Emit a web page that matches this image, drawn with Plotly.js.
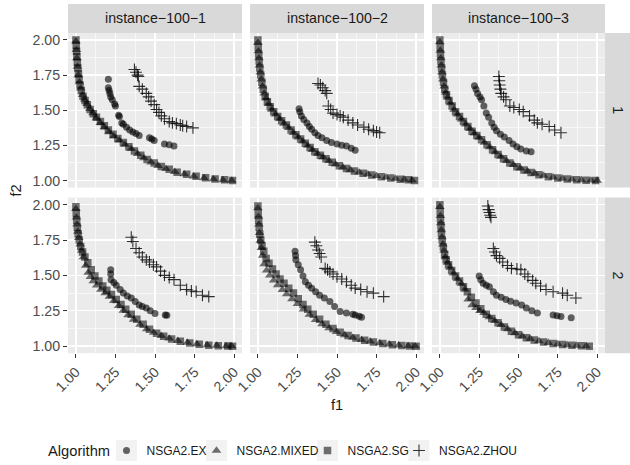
<!DOCTYPE html>
<html><head><meta charset="utf-8">
<script src="https://cdn.plot.ly/plotly-3.0.1.min.js"></script>
<style>html,body{margin:0;padding:0;background:#fff}#chart{width:630px;height:465px}</style>
</head><body><div id="chart"></div>
<script>
// ---------- categories / labels ----------
const instances = ["instance\u2212100\u22121", "instance\u2212100\u22122", "instance\u2212100\u22123"];
const rowLabels = ["1", "2"];
const algorithms = ["NSGA2.EX", "NSGA2.MIXED", "NSGA2.SG", "NSGA2.ZHOU"];
const legendTitle = "Algorithm";
const f1Ticks = [1, 1.25, 1.5, 1.75, 2];
const f1TickText = ["1.00", "1.25", "1.50", "1.75", "2.00"];
const f2Ticks = [1, 1.25, 1.5, 1.75, 2];
const f2TickText = ["1.00", "1.25", "1.50", "1.75", "2.00"];
const minorTicks = [1.125, 1.375, 1.625, 1.875];

// ---------- row 1, instance-100-1 ----------
const EX_11_f1 = [1.205,1.205,1.210,1.215,1.220,1.230,1.245,1.250,1.270,1.275,1.290,1.300,1.320,1.340,1.360,1.380,1.400,1.465,1.480,1.495,1.560,1.590,1.620];
const EX_11_f2 = [1.720,1.660,1.640,1.620,1.595,1.575,1.545,1.530,1.465,1.455,1.410,1.400,1.380,1.360,1.345,1.335,1.320,1.305,1.295,1.285,1.260,1.255,1.245];
const ZH_11_f1 = [1.370,1.380,1.390,1.395,1.400,1.420,1.445,1.460,1.475,1.495,1.510,1.525,1.540,1.560,1.590,1.610,1.635,1.660,1.675,1.700,1.740];
const ZH_11_f2 = [1.790,1.770,1.750,1.740,1.670,1.650,1.620,1.595,1.565,1.540,1.505,1.485,1.460,1.440,1.420,1.410,1.405,1.395,1.390,1.385,1.375];
const SG_11_f1 = [1.000,1.002,1.004,1.006,1.009,1.012,1.016,1.020,1.026,1.034,1.045,1.058,1.072,1.090,1.110,1.130,1.155,1.180,1.205,1.235,1.265,1.300,1.335,1.370,1.410,1.450,1.495,1.540,1.590,1.640,1.700,1.760,1.820,1.880,1.940,1.990];
const SG_11_f2 = [2.000,1.960,1.920,1.880,1.840,1.800,1.760,1.720,1.680,1.640,1.600,1.570,1.540,1.505,1.475,1.450,1.420,1.390,1.360,1.330,1.300,1.270,1.240,1.210,1.180,1.150,1.125,1.100,1.080,1.060,1.045,1.030,1.020,1.012,1.005,1.000];
const MX_11_f1 = [1.000,1.003,1.006,1.010,1.015,1.022,1.030,1.042,1.056,1.070,1.088,1.108,1.130,1.155,1.180,1.210,1.240,1.275,1.310,1.350,1.390,1.430,1.475,1.520,1.570,1.625,1.685,1.745,1.810,1.870,1.930,1.985];
const MX_11_f2 = [1.990,1.930,1.870,1.810,1.750,1.700,1.655,1.610,1.575,1.545,1.510,1.480,1.445,1.410,1.380,1.345,1.315,1.285,1.255,1.225,1.190,1.160,1.130,1.105,1.083,1.062,1.045,1.030,1.018,1.010,1.004,1.000];

// ---------- row 1, instance-100-2 ----------
const EX_12_f1 = [1.260,1.265,1.275,1.290,1.310,1.325,1.340,1.360,1.380,1.405,1.435,1.465,1.500,1.530,1.560,1.590,1.615];
const EX_12_f2 = [1.510,1.490,1.460,1.435,1.410,1.385,1.365,1.340,1.320,1.305,1.285,1.270,1.260,1.252,1.245,1.230,1.215];
const ZH_12_f1 = [1.380,1.395,1.410,1.425,1.435,1.445,1.460,1.475,1.500,1.520,1.540,1.570,1.600,1.630,1.670,1.700,1.730,1.750,1.770];
const ZH_12_f2 = [1.690,1.680,1.660,1.640,1.620,1.530,1.505,1.480,1.470,1.460,1.450,1.430,1.410,1.395,1.380,1.365,1.355,1.345,1.340];
const SG_12_f1 = [1.000,1.002,1.005,1.008,1.012,1.018,1.025,1.034,1.046,1.060,1.078,1.100,1.125,1.150,1.180,1.210,1.240,1.270,1.300,1.330,1.360,1.395,1.430,1.470,1.515,1.560,1.610,1.665,1.720,1.780,1.840,1.900,1.950,1.990];
const SG_12_f2 = [2.000,1.950,1.900,1.850,1.800,1.750,1.700,1.650,1.600,1.560,1.525,1.490,1.455,1.425,1.395,1.360,1.325,1.295,1.265,1.235,1.205,1.180,1.155,1.130,1.105,1.085,1.068,1.052,1.040,1.028,1.018,1.010,1.005,1.000];
const MX_12_f1 = [1.000,1.003,1.006,1.010,1.015,1.021,1.029,1.040,1.052,1.068,1.088,1.112,1.138,1.165,1.195,1.225,1.255,1.285,1.315,1.345,1.378,1.412,1.450,1.492,1.538,1.585,1.640,1.695,1.750,1.810,1.870,1.925,1.975];
const MX_12_f2 = [1.980,1.920,1.870,1.820,1.770,1.720,1.670,1.620,1.585,1.545,1.505,1.470,1.438,1.405,1.375,1.340,1.308,1.278,1.248,1.218,1.190,1.165,1.140,1.115,1.093,1.075,1.058,1.045,1.033,1.022,1.013,1.007,1.002];

// ---------- row 1, instance-100-3 ----------
const EX_13_f1 = [1.220,1.230,1.240,1.255,1.265,1.280,1.295,1.310,1.330,1.345,1.360,1.385,1.410,1.440,1.465,1.490,1.515,1.550,1.580];
const EX_13_f2 = [1.675,1.650,1.620,1.595,1.575,1.530,1.480,1.450,1.410,1.380,1.355,1.330,1.310,1.285,1.260,1.240,1.225,1.210,1.205];
const ZH_13_f1 = [1.375,1.378,1.380,1.385,1.390,1.405,1.420,1.445,1.470,1.505,1.530,1.570,1.600,1.620,1.650,1.695,1.730,1.770];
const ZH_13_f2 = [1.740,1.710,1.680,1.650,1.620,1.595,1.575,1.530,1.520,1.505,1.490,1.460,1.430,1.410,1.400,1.385,1.360,1.340];
const SG_13_f1 = [1.000,1.002,1.004,1.007,1.011,1.016,1.023,1.031,1.042,1.058,1.078,1.100,1.125,1.150,1.178,1.205,1.235,1.265,1.300,1.335,1.370,1.405,1.445,1.490,1.535,1.580,1.630,1.690,1.750,1.810,1.870,1.930,1.990];
const SG_13_f2 = [2.000,1.950,1.900,1.850,1.800,1.750,1.700,1.650,1.610,1.570,1.530,1.490,1.455,1.420,1.385,1.350,1.320,1.290,1.255,1.220,1.185,1.155,1.125,1.098,1.075,1.058,1.042,1.028,1.018,1.011,1.006,1.003,1.000];
const MX_13_f1 = [1.000,1.003,1.006,1.009,1.013,1.019,1.027,1.037,1.050,1.068,1.090,1.112,1.138,1.165,1.192,1.220,1.250,1.283,1.318,1.352,1.388,1.425,1.468,1.512,1.558,1.605,1.660,1.720,1.780,1.840,1.900,1.960,2.000];
const MX_13_f2 = [1.985,1.925,1.870,1.820,1.770,1.720,1.670,1.625,1.590,1.550,1.505,1.470,1.435,1.400,1.368,1.335,1.305,1.270,1.238,1.203,1.170,1.140,1.112,1.087,1.066,1.050,1.035,1.023,1.014,1.008,1.004,1.001,1.000];

// ---------- row 2, instance-100-1 ----------
const EX_21_f1 = [1.220,1.220,1.222,1.240,1.255,1.280,1.300,1.325,1.350,1.375,1.400,1.420,1.445,1.470,1.500,1.565,1.575];
const EX_21_f2 = [1.540,1.510,1.470,1.450,1.430,1.400,1.375,1.355,1.340,1.315,1.290,1.280,1.270,1.250,1.230,1.220,1.218];
const ZH_21_f1 = [1.350,1.360,1.380,1.400,1.420,1.445,1.465,1.490,1.510,1.535,1.560,1.590,1.620,1.660,1.700,1.730,1.760,1.800,1.840];
const ZH_21_f2 = [1.770,1.740,1.690,1.660,1.630,1.610,1.595,1.575,1.560,1.530,1.500,1.485,1.470,1.430,1.400,1.390,1.385,1.360,1.350];
const SG_21_f1 = [1.000,1.002,1.005,1.009,1.014,1.021,1.030,1.042,1.057,1.075,1.097,1.120,1.145,1.170,1.195,1.225,1.255,1.285,1.315,1.350,1.385,1.425,1.465,1.510,1.555,1.605,1.660,1.720,1.780,1.840,1.900,1.960,1.990];
const SG_21_f2 = [1.985,1.940,1.890,1.840,1.795,1.750,1.705,1.665,1.630,1.590,1.540,1.495,1.460,1.425,1.395,1.365,1.330,1.295,1.260,1.225,1.190,1.155,1.120,1.092,1.070,1.050,1.034,1.022,1.013,1.007,1.003,1.001,1.000];
const MX_21_f1 = [1.000,1.003,1.007,1.012,1.018,1.026,1.036,1.048,1.062,1.078,1.092,1.110,1.132,1.158,1.185,1.212,1.240,1.270,1.300,1.330,1.365,1.405,1.448,1.492,1.540,1.590,1.645,1.705,1.765,1.830,1.890,1.950,1.985];
const MX_21_f2 = [1.970,1.910,1.860,1.810,1.765,1.720,1.675,1.630,1.570,1.520,1.490,1.460,1.430,1.400,1.375,1.350,1.320,1.285,1.252,1.220,1.188,1.152,1.120,1.095,1.073,1.055,1.038,1.025,1.015,1.008,1.004,1.001,1.000];

// ---------- row 2, instance-100-2 ----------
const EX_22_f1 = [1.235,1.238,1.240,1.255,1.270,1.285,1.300,1.320,1.340,1.365,1.390,1.420,1.455,1.485,1.520,1.560,1.600,1.615,1.640,1.655];
const EX_22_f2 = [1.670,1.640,1.610,1.575,1.540,1.495,1.455,1.430,1.410,1.385,1.360,1.340,1.315,1.280,1.245,1.235,1.225,1.220,1.212,1.205];
const ZH_22_f1 = [1.360,1.370,1.380,1.390,1.400,1.425,1.440,1.455,1.475,1.500,1.530,1.560,1.590,1.615,1.650,1.690,1.730,1.795];
const ZH_22_f2 = [1.735,1.710,1.680,1.655,1.630,1.550,1.540,1.525,1.510,1.490,1.475,1.455,1.430,1.410,1.400,1.385,1.375,1.350];
const SG_22_f1 = [1.000,1.002,1.005,1.008,1.012,1.018,1.026,1.037,1.052,1.070,1.092,1.115,1.140,1.165,1.195,1.225,1.255,1.285,1.315,1.350,1.390,1.430,1.475,1.520,1.570,1.620,1.675,1.730,1.790,1.850,1.910,1.960,2.000];
const SG_22_f2 = [1.990,1.940,1.890,1.840,1.790,1.750,1.710,1.670,1.620,1.585,1.545,1.510,1.475,1.445,1.410,1.375,1.335,1.295,1.260,1.225,1.190,1.155,1.125,1.098,1.075,1.057,1.042,1.030,1.018,1.010,1.004,1.001,1.000];
const MX_22_f1 = [1.000,1.003,1.006,1.010,1.015,1.022,1.030,1.040,1.055,1.075,1.100,1.125,1.155,1.182,1.215,1.250,1.288,1.325,1.365,1.405,1.450,1.497,1.548,1.600,1.655,1.710,1.770,1.830,1.890,1.950,1.995];
const MX_22_f2 = [1.975,1.915,1.860,1.800,1.745,1.695,1.640,1.580,1.535,1.500,1.465,1.432,1.398,1.368,1.332,1.298,1.260,1.222,1.186,1.155,1.127,1.101,1.078,1.060,1.045,1.033,1.022,1.013,1.006,1.002,1.000];

// ---------- row 2, instance-100-3 ----------
const EX_23_f1 = [1.250,1.260,1.275,1.295,1.315,1.340,1.360,1.390,1.420,1.450,1.485,1.520,1.550,1.585,1.620,1.720,1.745,1.770,1.835];
const EX_23_f2 = [1.495,1.470,1.445,1.430,1.420,1.385,1.360,1.345,1.330,1.318,1.305,1.290,1.270,1.250,1.235,1.220,1.215,1.210,1.200];
const ZH_23_f1 = [1.305,1.310,1.315,1.320,1.325,1.340,1.350,1.360,1.380,1.400,1.430,1.455,1.490,1.515,1.540,1.560,1.590,1.610,1.640,1.675,1.720,1.780,1.810,1.865];
const ZH_23_f2 = [1.990,1.965,1.945,1.925,1.910,1.690,1.665,1.640,1.620,1.595,1.570,1.550,1.545,1.540,1.510,1.490,1.465,1.445,1.425,1.400,1.385,1.375,1.360,1.340];
const SG_23_f1 = [1.000,1.002,1.004,1.007,1.010,1.015,1.022,1.030,1.040,1.055,1.075,1.100,1.125,1.150,1.175,1.200,1.230,1.260,1.295,1.330,1.370,1.410,1.455,1.500,1.550,1.600,1.660,1.720,1.780,1.840,1.900,1.950];
const SG_23_f2 = [2.000,1.950,1.900,1.850,1.800,1.750,1.700,1.650,1.610,1.575,1.535,1.495,1.460,1.420,1.385,1.345,1.305,1.265,1.225,1.195,1.165,1.135,1.105,1.080,1.060,1.043,1.030,1.019,1.011,1.006,1.003,1.000];
const MX_23_f1 = [1.000,1.003,1.006,1.009,1.013,1.019,1.026,1.035,1.048,1.065,1.088,1.112,1.138,1.160,1.180,1.205,1.230,1.255,1.280,1.315,1.350,1.390,1.432,1.478,1.525,1.575,1.630,1.690,1.750,1.810,1.870,1.930];
const MX_23_f2 = [1.985,1.920,1.870,1.820,1.770,1.720,1.675,1.630,1.590,1.555,1.515,1.475,1.440,1.400,1.330,1.290,1.270,1.250,1.235,1.205,1.178,1.150,1.120,1.092,1.070,1.052,1.036,1.024,1.015,1.008,1.004,1.001];

// ---------- assemble ----------
const panelData = [
  [[EX_11_f1,EX_11_f2],[MX_11_f1,MX_11_f2],[SG_11_f1,SG_11_f2],[ZH_11_f1,ZH_11_f2]],
  [[EX_12_f1,EX_12_f2],[MX_12_f1,MX_12_f2],[SG_12_f1,SG_12_f2],[ZH_12_f1,ZH_12_f2]],
  [[EX_13_f1,EX_13_f2],[MX_13_f1,MX_13_f2],[SG_13_f1,SG_13_f2],[ZH_13_f1,ZH_13_f2]],
  [[EX_21_f1,EX_21_f2],[MX_21_f1,MX_21_f2],[SG_21_f1,SG_21_f2],[ZH_21_f1,ZH_21_f2]],
  [[EX_22_f1,EX_22_f2],[MX_22_f1,MX_22_f2],[SG_22_f1,SG_22_f2],[ZH_22_f1,ZH_22_f2]],
  [[EX_23_f1,EX_23_f2],[MX_23_f1,MX_23_f2],[SG_23_f1,SG_23_f2],[ZH_23_f1,ZH_23_f2]]
];

const W = 630, H = 465;
const FONT = "Liberation Sans, Arial, Helvetica, sans-serif";
const colPx = [[68, 242], [250, 424], [432, 605]];
const rowPx = [[33, 188], [198, 354]];
const fx = v => v / W;
const fy = v => 1 - v / H;

const markerStyles = [
  {symbol: 'circle', size: 7, color: 'rgba(0,0,0,0.6)', line: {width: 0}},
  {symbol: 'triangle-up', size: 8.5, color: 'rgba(0,0,0,0.55)', line: {width: 0}},
  {symbol: 'square', size: 7.5, color: 'rgba(0,0,0,0.55)', line: {width: 0}},
  {symbol: 'cross-thin-open', size: 8.5, color: 'rgba(0,0,0,0.8)', line: {width: 1.1, color: 'rgba(0,0,0,0.8)'}}
];
const legendNames = ['legend', 'legend2', 'legend3', 'legend4'];
const keyCentersPx = [126.5, 216.5, 327.5, 419];  // legend key box centres

const traces = [];
const layout = {
  width: W, height: H, autosize: false,
  margin: {l: 0, r: 0, t: 0, b: 0, pad: 0},
  paper_bgcolor: '#ffffff', plot_bgcolor: '#EBEBEB',
  font: {family: FONT, size: 12, color: '#1A1A1A'},
  showlegend: true,
  shapes: [], annotations: []
};

// one single-entry legend per algorithm, placed like ggplot's keys
for (let a = 0; a < algorithms.length; a++) {
  layout[legendNames[a]] = {
    orientation: 'h', x: fx(keyCentersPx[a] - 20), xanchor: 'left', y: fy(451.5), yanchor: 'middle',
    font: {family: FONT, size: 12, color: '#1A1A1A'}, itemwidth: 30,
    bgcolor: 'rgba(0,0,0,0)', borderwidth: 0
  };
  layout.shapes.push({type: 'rect', xref: 'paper', yref: 'paper',
    x0: fx(keyCentersPx[a] - 10.5), x1: fx(keyCentersPx[a] + 10.5), y0: fy(462), y1: fy(441),
    fillcolor: '#F2F2F2', line: {width: 0}, layer: 'below'});
}
layout.annotations.push({xref: 'paper', yref: 'paper', x: fx(46), y: fy(451.5), text: legendTitle, showarrow: false, xanchor: 'left', yanchor: 'middle', font: {size: 14.7, color: '#1A1A1A'}});

for (let r = 0; r < 2; r++) {
  for (let c = 0; c < 3; c++) {
    const n = r * 3 + c + 1;
    const sfx = n === 1 ? '' : String(n);
    const data = panelData[n - 1];
    for (let a = 0; a < algorithms.length; a++) {
      traces.push({
        type: 'scatter', mode: 'markers',
        x: data[a][0], y: data[a][1],
        xaxis: 'x' + sfx, yaxis: 'y' + sfx,
        name: algorithms[a], legendgroup: algorithms[a], legend: legendNames[a],
        showlegend: n === 1,
        marker: markerStyles[a],
        hoverinfo: 'skip'
      });
    }
    layout['xaxis' + sfx] = {
      domain: [fx(colPx[c][0]), fx(colPx[c][1])],
      anchor: 'y' + sfx, range: [0.95, 2.05],
      tickmode: 'array', tickvals: f1Ticks, ticktext: f1TickText,
      showticklabels: r === 1, ticks: r === 1 ? 'outside' : '',
      ticklen: 4, tickwidth: 1, tickcolor: '#333333', tickangle: -45,
      tickfont: {size: 14.2, color: '#4D4D4D'},
      showgrid: true, gridcolor: '#FFFFFF', gridwidth: 1.4,
      minor: {tickmode: 'array', tickvals: minorTicks, showgrid: true, gridcolor: '#FFFFFF', gridwidth: 0.6, ticks: ''},
      zeroline: false, showline: false, fixedrange: true
    };
    layout['yaxis' + sfx] = {
      domain: [fy(rowPx[r][1]), fy(rowPx[r][0])],
      anchor: 'x' + sfx, range: [0.95, 2.05],
      tickmode: 'array', tickvals: f2Ticks, ticktext: f2TickText,
      showticklabels: c === 0, ticks: c === 0 ? 'outside' : '',
      ticklen: 4, tickwidth: 1, tickcolor: '#333333',
      tickfont: {size: 14.2, color: '#4D4D4D'},
      showgrid: true, gridcolor: '#FFFFFF', gridwidth: 1.4,
      minor: {tickmode: 'array', tickvals: minorTicks, showgrid: true, gridcolor: '#FFFFFF', gridwidth: 0.6, ticks: ''},
      zeroline: false, showline: false, fixedrange: true
    };
  }
}

// facet strips (top)
for (let c = 0; c < 3; c++) {
  layout.shapes.push({type: 'rect', xref: 'paper', yref: 'paper', x0: fx(colPx[c][0]), x1: fx(colPx[c][1]), y0: fy(33), y1: fy(4), fillcolor: '#D9D9D9', line: {width: 0}, layer: 'below'});
  layout.annotations.push({xref: 'paper', yref: 'paper', x: fx((colPx[c][0] + colPx[c][1]) / 2), y: fy(18.5), text: instances[c], showarrow: false, xanchor: 'center', yanchor: 'middle', font: {size: 14.2, color: '#1A1A1A'}});
}
// facet strips (right)
for (let r = 0; r < 2; r++) {
  layout.shapes.push({type: 'rect', xref: 'paper', yref: 'paper', x0: fx(605), x1: fx(630), y0: fy(rowPx[r][1]), y1: fy(rowPx[r][0]), fillcolor: '#D9D9D9', line: {width: 0}, layer: 'below'});
  layout.annotations.push({xref: 'paper', yref: 'paper', x: fx(618), y: fy((rowPx[r][0] + rowPx[r][1]) / 2), text: rowLabels[r], textangle: 90, showarrow: false, xanchor: 'center', yanchor: 'middle', font: {size: 14.2, color: '#1A1A1A'}});
}
// axis titles
layout.annotations.push({xref: 'paper', yref: 'paper', x: fx(336.5), y: fy(406), text: 'f1', showarrow: false, xanchor: 'center', yanchor: 'middle', font: {size: 14.7, color: '#1A1A1A'}});
layout.annotations.push({xref: 'paper', yref: 'paper', x: fx(16), y: fy(191), text: 'f2', textangle: -90, showarrow: false, xanchor: 'center', yanchor: 'middle', font: {size: 14.7, color: '#1A1A1A'}});

Plotly.newPlot('chart', traces, layout, {displayModeBar: false, staticPlot: true});
</script></body></html>
